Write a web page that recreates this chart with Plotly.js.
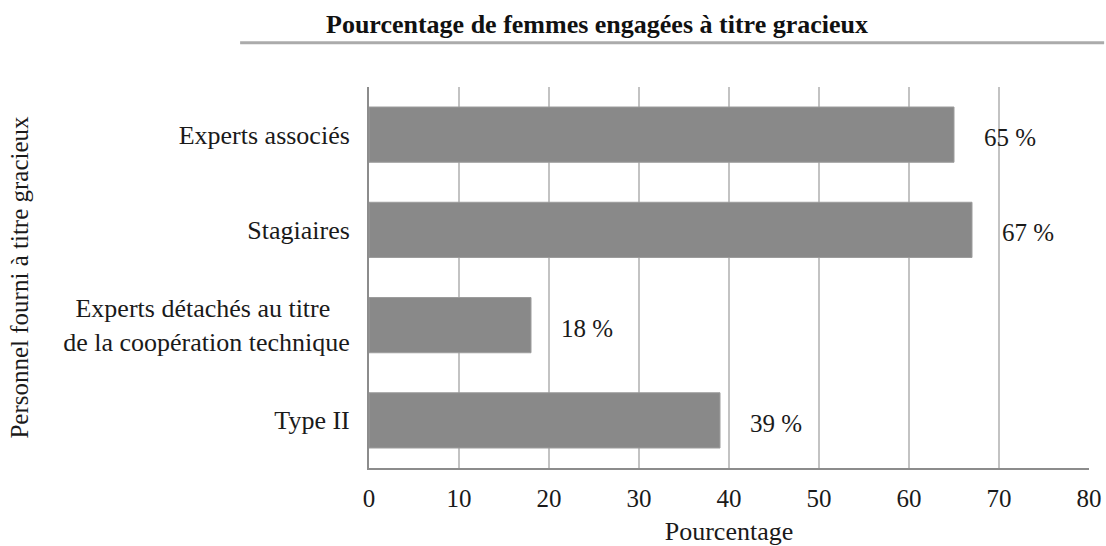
<!DOCTYPE html>
<html>
<head>
<meta charset="utf-8">
<script src="https://cdn.plot.ly/plotly-3.0.1.min.js"></script>
<style>html,body{margin:0;padding:0;background:#fff;}#chart{width:1106px;height:546px;}</style>
</head>
<body>
<div id="chart"></div>
<script>
var categories = ["Experts associés", "Stagiaires", "Experts détachés au titre&nbsp;&nbsp;&nbsp;<br>de la coopération technique", "Type II"];
var values = [65, 67, 18, 39];
var valueLabels = ["65 %", "67 %", "18 %", "39 %"];
var xTicks = [0, 10, 20, 30, 40, 50, 60, 70, 80];

var FONT = "'Liberation Serif', 'Times New Roman', serif";
var FS = 26;

var trace = {
  type: "bar",
  orientation: "h",
  x: values,
  y: categories,
  marker: {color: "#898989", line: {color: "#9c9c9c", width: 1}},
  hoverinfo: "none"
};

var annotations = values.map(function (v, i) {
  return {
    x: v, y: categories[i], xref: "x", yref: "y",
    text: valueLabels[i], showarrow: false,
    xanchor: "left", yanchor: "middle", xshift: 28, yshift: -3,
    font: {family: FONT, size: 25, color: "#1a1a1a"}
  };
});

var layout = {
  width: 1106, height: 546,
  margin: {l: 369, r: 17, t: 87, b: 78},
  paper_bgcolor: "#fff", plot_bgcolor: "#fff",
  font: {family: FONT, size: FS, color: "#1a1a1a"},
  showlegend: false,
  bargap: 0.42,
  title: {
    text: "<b>Pourcentage de femmes engagées à titre gracieux</b>",
    font: {family: FONT, size: 26, color: "#111"},
    x: 597 / 1106, xref: "container", xanchor: "center",
    y: 1 - 24 / 546, yref: "container", yanchor: "middle"
  },
  xaxis: {
    range: [0, 80], tickvals: xTicks, ticktext: xTicks.map(String),
    showgrid: true, gridcolor: "#c3c3c3", gridwidth: 2,
    zeroline: false, showline: true, linecolor: "#8c8c8c", linewidth: 2,
    ticks: "", ticklabelstandoff: 7,
    tickfont: {family: FONT, size: 25, color: "#1a1a1a"},
    title: {text: "Pourcentage", font: {family: FONT, size: FS, color: "#1a1a1a"}, standoff: 12},
    fixedrange: true
  },
  yaxis: {
    type: "category", autorange: "reversed",
    showgrid: false, zeroline: false, showline: true, linecolor: "#8c8c8c", linewidth: 2,
    ticks: "", ticklabelstandoff: 12,
    tickfont: {family: FONT, size: FS, color: "#1a1a1a"},
    title: {text: "Personnel fourni à titre gracieux", font: {family: FONT, size: 25, color: "#1a1a1a"}, standoff: 27},
    fixedrange: true
  },
  shapes: [{
    type: "line", xref: "paper", yref: "paper",
    x0: -0.179, x1: 1.021, y0: 1.116, y1: 1.116,
    line: {color: "#ababab", width: 3}
  }],
  annotations: annotations
};

Plotly.newPlot("chart", [trace], layout, {displayModeBar: false, staticPlot: true});
</script>
</body>
</html>
